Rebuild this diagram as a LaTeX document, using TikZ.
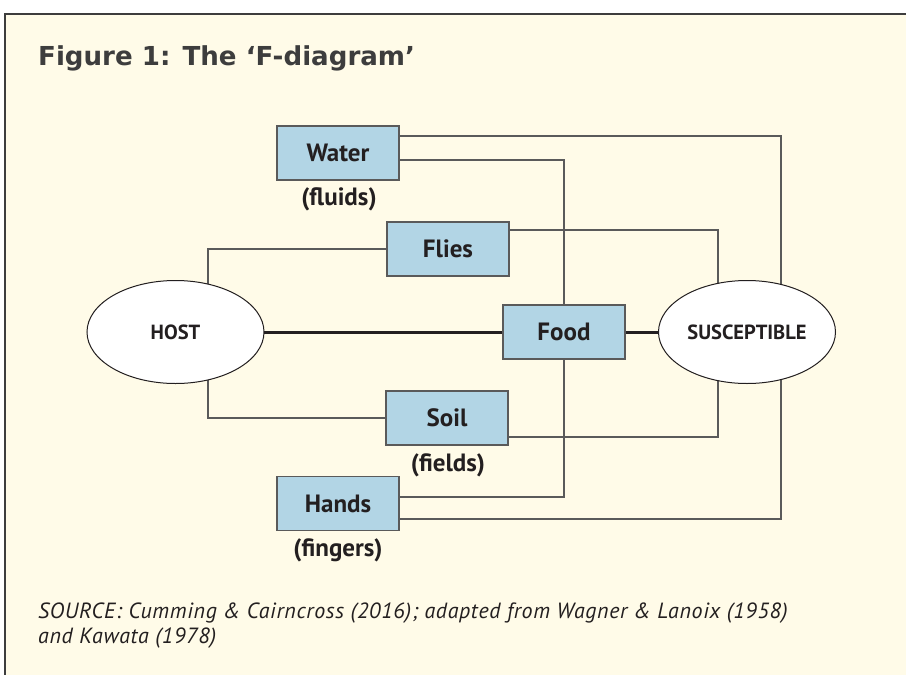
\documentclass[tikz,border=0pt]{standalone}
\usepackage{fontspec}
\setmainfont{PT Sans}
\newfontfamily\titlefont{DejaVu Sans}
\newfontfamily\srcfont[LetterSpace=3]{PT Sans}
\usetikzlibrary{shapes.geometric}
\definecolor{cream}{HTML}{FFFBE8}
\definecolor{boxblue}{HTML}{B2D5E5}
\definecolor{linegray}{HTML}{5A5A5A}
\definecolor{txt}{HTML}{231F20}
\definecolor{titlegray}{HTML}{3D3D3D}
\pgfdeclarelayer{bgzero}
\pgfdeclarelayer{bgone}
\pgfsetlayers{bgzero,bgone,main}
\begin{document}
\begin{tikzpicture}[x=1pt,y=-1pt,
  box/.style={draw=linegray,line width=1.2pt,fill=boxblue,minimum width=122pt,minimum height=54pt,inner sep=0pt,font=\fontsize{25}{28}\selectfont\bfseries,text=txt},
  oval/.style={ellipse,draw=txt,line width=1pt,fill=white,minimum width=177pt,minimum height=103pt,inner sep=0pt,font=\fontsize{20.5}{24}\selectfont\bfseries,text=txt},
  sub/.style={font=\fontsize{25}{28}\selectfont\bfseries,text=txt,inner sep=0pt},
  link/.style={draw=linegray,line width=1.2pt},
  mainlink/.style={draw=txt,line width=3pt},
  srcline/.style={anchor=base west,inner sep=0pt,font=\fontsize{22}{26}\selectfont\srcfont\itshape,text=txt}
]
\useasboundingbox (0,0) rectangle (906,675);
\begin{pgfonlayer}{bgzero}
  \fill[white] (0,0) rectangle (906,675);
  \fill[cream] (5,14) rectangle (906,675);
  \draw[titlegray,line width=1.6pt] (5,675) -- (5,14) -- (906,14);
\end{pgfonlayer}

\coordinate (colA) at (781,0);
\coordinate (colB) at (718,0);
\coordinate (colH) at (208,0);

\node[box] (water) at (338,153) {Water};
\node[box] (flies) at (448,249) {Flies};
\node[box] (food) at (564,332) {Food};
\node[box] (soil) at (447,418) {Soil};
\node[box] (hands) at (338,503.5) {Hands};
\node[oval] (host) at (175.5,332) {HOST};
\node[oval] (susc) at (747,332) {SUSCEPTIBLE};

\node[sub] (fluids) at (339,199) {(fluids)};
\node[sub] (fields) at (448,465) {(fields)};
\node[sub] (fingers) at (338,550) {(fingers)};

\node[anchor=base west,inner sep=0pt,font=\fontsize{26.1}{31}\selectfont\titlefont\bfseries,text=titlegray] (title) at (38,65) {Figure 1: The ‘F-diagram’};
\node[srcline] (src1) at (38,618) {SOURCE: Cumming \& Cairncross (2016); adapted from Wagner \& Lanoix (1958)};
\node[srcline] (src2) at (38,643) {and Kawata (1978)};

\begin{pgfonlayer}{bgone}
  \draw[link] ([yshift=17pt]water.east) -| (colA |- susc.center);
  \draw[link] ([yshift=-7pt]water.east) -| (food.center) |- ([yshift=6.5pt]hands.east);
  \draw[link] ([yshift=-15.5pt]hands.east) -| (colA |- susc.center);
  \draw[link] (flies.west) -| (colH |- host.center);
  \draw[link] (soil.west) -| (colH |- host.center);
  \draw[link] ([yshift=19pt]flies.east) -| (colB |- susc.center);
  \draw[link] ([yshift=-19pt]soil.east) -| (colB |- susc.center);
  \draw[mainlink] (host.center) -- (food.center) -- (susc.center);
\end{pgfonlayer}
\end{tikzpicture}
\end{document}
